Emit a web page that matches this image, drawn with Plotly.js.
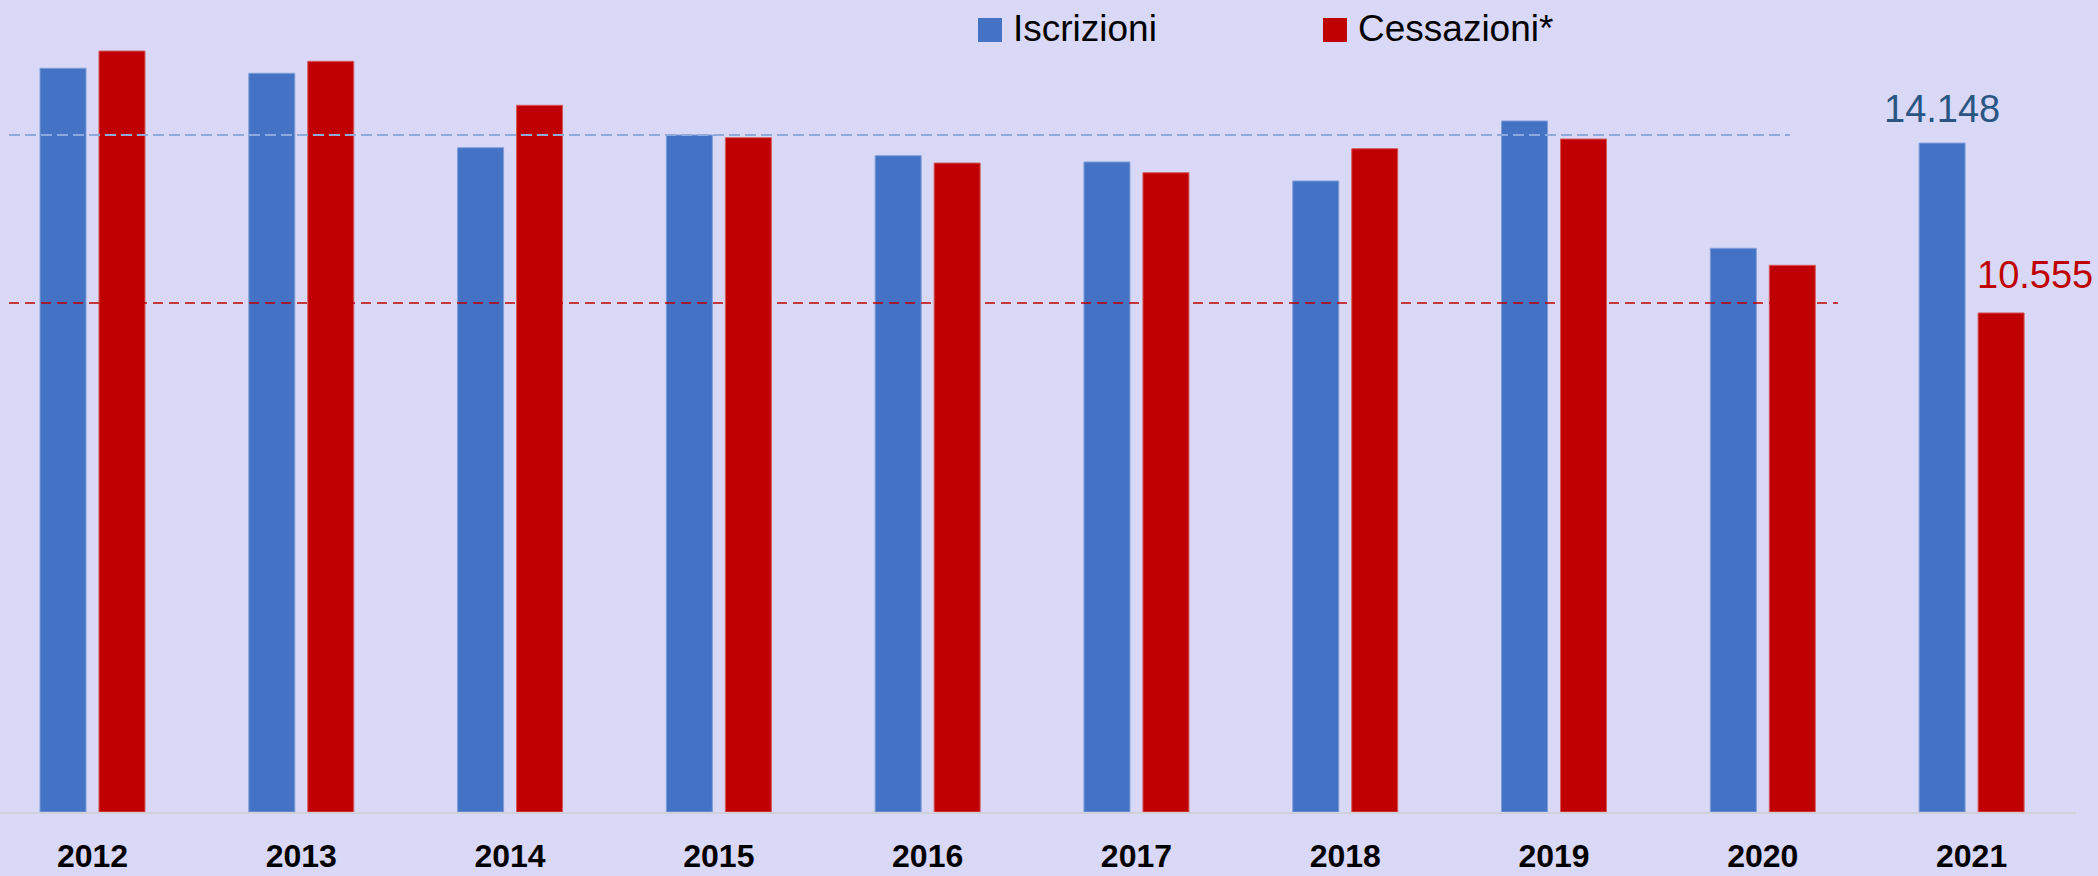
<!DOCTYPE html>
<html>
<head>
<meta charset="utf-8">
<script src="https://cdn.plot.ly/plotly-3.0.1.min.js"></script>
<style>
  html, body { margin: 0; padding: 0; background: #D9D8F6; }
  #chart { width: 2098px; height: 876px; }
</style>
</head>
<body>
<div id="chart"></div>
<script>
// ---- data ----
var years = ['2012', '2013', '2014', '2015', '2016', '2017', '2018', '2019', '2020', '2021'];
var iscrizioni = [15730, 15624, 14050, 14319, 13881, 13748, 13346, 14615, 11922, 14148];
var cessazioni = [16095, 15877, 14947, 14262, 13726, 13521, 14029, 14234, 11563, 10555];
var seriesNames = ['Iscrizioni', 'Cessazioni*'];
var refLevels = [14320, 10765]; // dashed guide lines

// ---- style ----
var BG = '#D9D8F6', BLUE = '#4472C4', RED = '#C00000';
var FONT = '"Liberation Sans", Arial, sans-serif';
var W = 2098, H = 876, ML = 0, MR = 22, MT = 0, MB = 64;
var PW = W - ML - MR, PH = H - MT - MB;
var xRange = [-0.443, 9.5];

function fmtIt(v) { return String(Math.round(v)).replace(/\B(?=(\d{3})+(?!\d))/g, '.'); }
function catToPaper(i) { return (i - xRange[0]) / (xRange[1] - xRange[0]); }
function pxX(px) { return (px - ML) / PW; }
function pxY(py) { return 1 - (py - MT) / PH; }

var last = years.length - 1;
var colors = [BLUE, RED];

var traces = [
  { type: 'bar', name: seriesNames[0], x: years, y: iscrizioni, showlegend: false,
    marker: { color: BLUE, line: { color: '#7F9FD8', width: 1 } } },
  { type: 'bar', name: seriesNames[1], x: years, y: cessazioni, showlegend: false,
    marker: { color: RED, line: { color: '#D65A5A', width: 1 } } }
];

// legend drawn as squares + text (positions in pixels)
var legendItems = [
  { sq: [978, 1002], tx: 1011 },
  { sq: [1323, 1347], tx: 1356 }
];
var shapes = [
  { type: 'line', xref: 'paper', yref: 'y', x0: pxX(9), x1: pxX(1790), y0: refLevels[0], y1: refLevels[0],
    line: { color: '#8EAADC', width: 2, dash: '11px,5px' } },
  { type: 'line', xref: 'paper', yref: 'y', x0: pxX(9), x1: pxX(1838), y0: refLevels[1], y1: refLevels[1],
    line: { color: RED, width: 1.5, dash: '10px,6px' } }
];
var annotations = [
  { xref: 'paper', yref: 'y', x: catToPaper(last), y: iscrizioni[last], text: fmtIt(iscrizioni[last]),
    showarrow: false, xanchor: 'center', yanchor: 'middle', xshift: -29.5, yshift: 34,
    font: { family: FONT, size: 38, color: '#2A5683' } },
  { xref: 'paper', yref: 'y', x: catToPaper(last), y: cessazioni[last], text: fmtIt(cessazioni[last]),
    showarrow: false, xanchor: 'left', yanchor: 'middle', xshift: 3, yshift: 38,
    font: { family: FONT, size: 38, color: RED } }
];
legendItems.forEach(function (it, i) {
  shapes.push({ type: 'rect', xref: 'paper', yref: 'paper',
    x0: pxX(it.sq[0]), x1: pxX(it.sq[1]), y0: pxY(42), y1: pxY(18),
    fillcolor: colors[i], line: { width: 0 } });
  annotations.push({ xref: 'paper', yref: 'paper', x: pxX(it.tx), y: pxY(29),
    xanchor: 'left', yanchor: 'middle', showarrow: false, text: seriesNames[i],
    font: { family: FONT, size: 37, color: '#000000' } });
});

var layout = {
  width: W, height: H,
  paper_bgcolor: BG, plot_bgcolor: BG,
  margin: { l: ML, r: MR, t: MT, b: MB, pad: 0 },
  barmode: 'group', bargap: 0.435, bargroupgap: 0.22,
  font: { family: FONT, color: '#000000' },
  showlegend: false,
  xaxis: {
    type: 'category', range: xRange,
    showline: true, linecolor: '#D0D0D8', linewidth: 2,
    showgrid: false, zeroline: false, ticks: '',
    tickfont: { family: FONT, size: 32, color: '#000000', weight: 'bold' },
    ticklabelstandoff: 15
  },
  yaxis: { range: [0, 17174], showgrid: false, zeroline: false, showline: false, showticklabels: false, ticks: '' },
  shapes: shapes,
  annotations: annotations
};

Plotly.newPlot('chart', traces, layout, { displayModeBar: false });
</script>
</body>
</html>
